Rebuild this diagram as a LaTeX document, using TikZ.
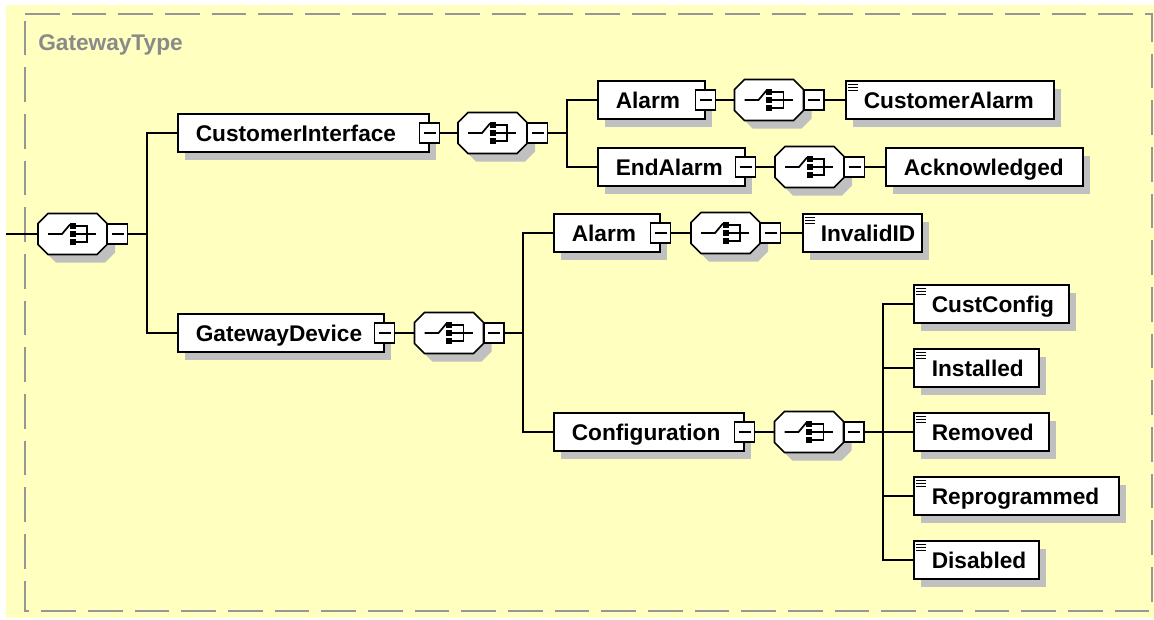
\documentclass[tikz,border=0pt]{standalone}
\usepackage{fontspec}
\setmainfont{Liberation Sans}
\usetikzlibrary{calc}
\definecolor{bgc}{RGB}{255,255,192}
\definecolor{shc}{RGB}{192,192,192}
\definecolor{dashc}{RGB}{150,150,150}
\definecolor{lblc}{RGB}{138,138,138}
\tikzset{
  conn/.style={line width=1.1pt, draw=black},
  elbox/.style={draw, line width=1.2pt, fill=white, rectangle, inner xsep=13.5pt, inner ysep=0pt,
    minimum height=28.5pt, text height=13pt, text depth=0pt, align=left, anchor=west,
    font=\fontsize{17}{20}\selectfont\bfseries},
  minusbox/.style={draw, line width=1.1pt, fill=white, rectangle, minimum size=15pt, inner sep=0pt,
    path picture={\draw[line width=1pt] ([xshift=-4.5pt]path picture bounding box.center) -- ([xshift=4.5pt]path picture bounding box.center);}},
  octsize/.style={rectangle, inner sep=0pt, minimum width=51.75pt, minimum height=30.75pt},
  seqline/.style={line width=1.3pt},
  octline/.style={line width=1.2pt, draw=black, fill=white},
}
\newcommand\El[5]{%
  \pgfmathsetmacro\elw{(#3-#2-36)*0.75}%
  \fill[shc] (#2+8,#4-11) rectangle (#3+8,#4+27);
  \node[elbox, text width=\elw pt] (#1) at (#2,#4) {#5};
}
\newcommand\Mn[1]{\node[minusbox] (#1-m) at (#1.east) {};}
\newcommand\Ic[1]{\foreach \d in {4,7,10} {\draw[line width=0.9pt] ([shift={(3,\d)}]#1.north west) -- ++(10,0);}}
\newcommand\Oct[3]{%
  \begin{scope}[shift={(#2,#3)}]
    \begin{scope}[shift={(8,8)}]
      \fill[shc] (-24.5,-20.5) -- (24.5,-20.5) -- (34.5,-10.5) -- (34.5,10.5) -- (24.5,20.5) -- (-24.5,20.5) -- (-34.5,10.5) -- (-34.5,-10.5) -- cycle;
    \end{scope}
    \path[octline] (-24.5,-20.5) -- (24.5,-20.5) -- (34.5,-10.5) -- (34.5,10.5) -- (24.5,20.5) -- (-24.5,20.5) -- (-34.5,10.5) -- (-34.5,-10.5) -- cycle;
    \draw[seqline] (-24.5,0) -- (-10.5,0) -- (-2.5,-9.5);
    \fill (-3,-11) rectangle (3,-5);
    \fill (-3,-3) rectangle (3,3);
    \fill (-3,5) rectangle (3,11);
    \draw[seqline] (2,-8) -- (14.5,-8) -- (14.5,8) -- (2,8);
    \draw[seqline] (2,0) -- (23.5,0);
    \node[octsize] (#1) at (0,0) {};
    \node[minusbox] (#1-m) at (45,0) {};
  \end{scope}
}
\begin{document}
\begin{tikzpicture}[x=0.75pt,y=-0.75pt]
\useasboundingbox (0,0) rectangle (1154,619);
\fill[white] (0,0) rectangle (1154,619);
\fill[bgc] (6,5) rectangle (1154,618);
\draw[dashc, line width=1.5pt, dash pattern=on 26pt off 9pt] (25,14) -- (1152,14) -- (1152,611) -- (25,611) -- cycle;
\node[anchor=base west, text=lblc, inner sep=0pt, font=\fontsize{17}{20}\selectfont\bfseries] (title) at (38,50) {GatewayType};

% root compositor
\Oct{c0}{72.5}{234}
% CustomerInterface branch
\El{ci}{177}{428}{133}{CustomerInterface}\Mn{ci}
\Oct{c1}{492.5}{133}
\El{al1}{597}{704}{100}{Alarm}\Mn{al1}
\Oct{c2}{769}{100}
\El{ca}{845}{1053}{100}{CustomerAlarm}\Ic{ca}
\El{ea}{597}{744}{167}{EndAlarm}\Mn{ea}
\Oct{c3}{809.5}{167}
\El{ack}{885}{1082}{167}{Acknowledged}
% GatewayDevice branch
\El{gd}{177}{383}{333}{GatewayDevice}\Mn{gd}
\Oct{c4}{449}{333}
\El{al2}{553}{659}{233}{Alarm}\Mn{al2}
\Oct{c5}{725.5}{233}
\El{inv}{802}{921}{233}{InvalidID}\Ic{inv}
\El{cfg}{553}{743}{432}{Configuration}\Mn{cfg}
\Oct{c6}{809}{432}
\El{cc}{913}{1068}{304}{CustConfig}\Ic{cc}
\El{ins}{913}{1038}{368}{Installed}\Ic{ins}
\El{rem}{913}{1048}{432}{Removed}\Ic{rem}
\El{rep}{913}{1118}{496}{Reprogrammed}\Ic{rep}
\El{dis}{913}{1038}{560}{Disabled}\Ic{dis}

% connectors
\coordinate (start) at (6,234);
\coordinate (b0) at (147,234);
\coordinate (b1) at (567,133);
\coordinate (b2) at (523,333);
\coordinate (b3) at (883,432);
\draw[conn] (start) -- (c0.west);
\draw[conn] (c0-m.east) -- (b0);
\draw[conn] (ci.west) -| (b0);
\draw[conn] (gd.west) -| (b0);
\draw[conn] (ci-m.east) -- (c1.west);
\draw[conn] (c1-m.east) -- (b1);
\draw[conn] (al1.west) -| (b1);
\draw[conn] (ea.west) -| (b1);
\draw[conn] (al1-m.east) -- (c2.west);
\draw[conn] (c2-m.east) -- (ca.west);
\draw[conn] (ea-m.east) -- (c3.west);
\draw[conn] (c3-m.east) -- (ack.west);
\draw[conn] (gd-m.east) -- (c4.west);
\draw[conn] (c4-m.east) -- (b2);
\draw[conn] (al2.west) -| (b2);
\draw[conn] (cfg.west) -| (b2);
\draw[conn] (al2-m.east) -- (c5.west);
\draw[conn] (c5-m.east) -- (inv.west);
\draw[conn] (cfg-m.east) -- (c6.west);
\draw[conn] (c6-m.east) -- (b3);
\draw[conn] (cc.west) -| (b3);
\draw[conn] (ins.west) -| (b3);
\draw[conn] (rem.west) -- (b3);
\draw[conn] (rep.west) -| (b3);
\draw[conn] (dis.west) -| (b3);
\end{tikzpicture}
\end{document}
